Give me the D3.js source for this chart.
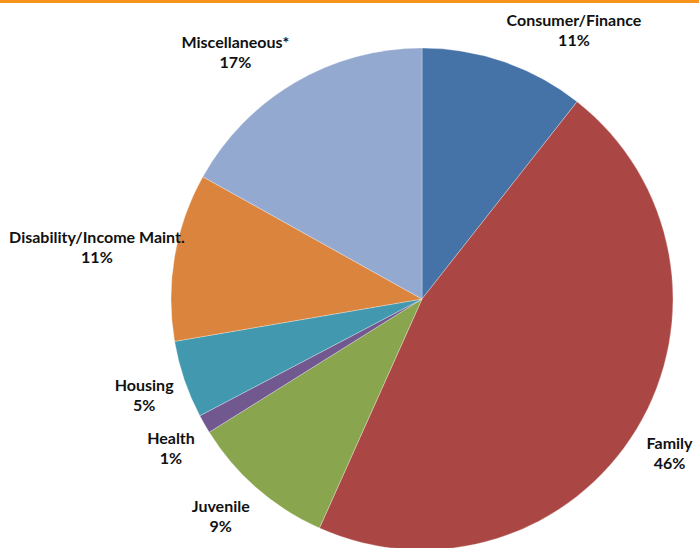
<!DOCTYPE html>
<html>
<head>
<meta charset="utf-8">
<script src="https://cdn.jsdelivr.net/npm/d3@7"></script>
<style>
  body { margin: 0; background: #fff; }
  svg { display: block; }
</style>
</head>
<body>
<div id="chartDiv"></div>
<script>
// share of cases by category (percent)
const categories = ['Consumer/Finance', 'Family', 'Juvenile', 'Health', 'Housing', 'Disability/Income Maint.', 'Miscellaneous*']
const shares = [10.6, 46.1, 9.4, 1.2, 5.0, 10.8, 16.9]
const sliceColors = ['#4572A7', '#AA4643', '#89A54E', '#71588F', '#4198AF', '#DB843D', '#93A9CF']

const width = 699
const height = 548
const cx = 422
const cy = 299
const radius = 251
const pad = 9 // labels are kept inside the chart area

const svg = d3.select('#chartDiv').append('svg')
  .attr('width', width)
  .attr('height', height)

// orange rule along the top edge
svg.append('rect')
  .attr('x', 0)
  .attr('y', 0)
  .attr('width', width)
  .attr('height', 3)
  .attr('fill', '#F7941D')

const data = categories.map((c, i) => ({ name: c, value: shares[i], color: sliceColors[i] }))

const pie = d3.pie()
  .sort(null)
  .value(d => d.value)

const arc = d3.arc()
  .innerRadius(0)
  .outerRadius(radius)

const g = svg.append('g')
  .attr('transform', `translate(${cx},${cy})`)

const arcs = pie(data)

g.selectAll('path')
  .data(arcs)
  .enter()
  .append('path')
  .attr('d', arc)
  .attr('fill', d => d.data.color)
  .attr('stroke', '#fff')
  .attr('stroke-opacity', 0.5)
  .attr('stroke-width', 0.6)

// labels sit just outside the rim, the box pushed away from the pie
const clamp = (v, lo = -1, hi = 1) => Math.max(lo, Math.min(hi, v))
const labelR = radius + 11
const lineH = 20

const labels = g.selectAll('g.label')
  .data(arcs)
  .enter()
  .append('g')
  .attr('class', 'label')

labels.each(function (d) {
  const lab = d3.select(this)
  const t = lab.append('text')
    .attr('text-anchor', 'middle')
    .style('font-family', 'Lato, "Open Sans", sans-serif')
    .style('font-weight', 'bold')
    .style('font-size', '16px')
    .attr('fill', '#111')
  t.append('tspan').attr('x', 0).attr('y', -5).text(d.data.name)
  t.append('tspan').attr('x', 0).attr('y', 15).text(Math.round(d.data.value) + '%')

  const bb = t.node().getBBox()
  const hw = bb.width / 2
  const hh = lineH
  const a = (d.startAngle + d.endAngle) / 2
  const px = Math.sin(a) * labelR
  const py = -Math.cos(a) * labelR
  let x = px + hw * clamp(3 * Math.sin(a)) + cx
  let y = py - hh * clamp(2 * Math.cos(a)) + cy
  x = clamp(x, pad + hw, width - hw)
  y = clamp(y, pad + hh, height - hh)
  lab.attr('transform', `translate(${x - cx},${y - cy})`)
})
</script>
</body>
</html>
